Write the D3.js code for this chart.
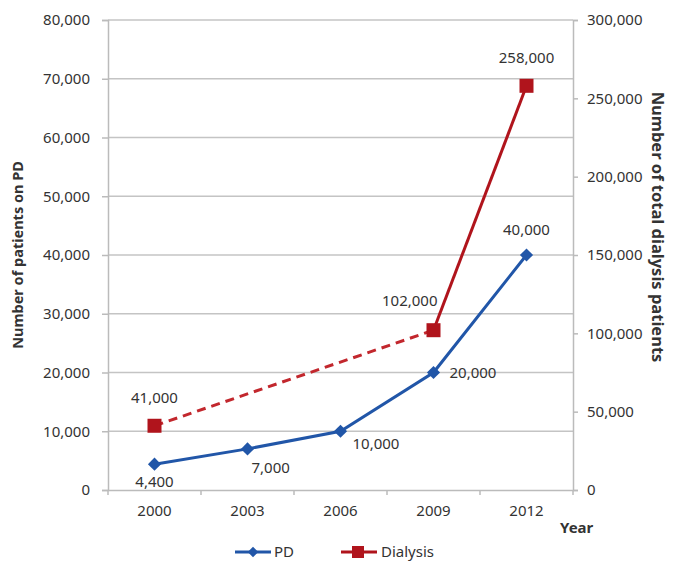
<!DOCTYPE html>
<html>
<head>
<meta charset="utf-8">
<script src="https://cdn.jsdelivr.net/npm/d3@7"></script>
<style>
  body { margin: 0; background: #fff; }
  svg text { font-family: "Noto Sans", "Open Sans", sans-serif; fill: #333; }
</style>
</head>
<body>
<div id="chart"></div>
<script>
// chart values
const years = ['2000', '2003', '2006', '2009', '2012'];
const pdValues = [4400, 7000, 10000, 20000, 40000];
const pdLabels = ['4,400', '7,000', '10,000', '20,000', '40,000'];
const dialysisYears = ['2000', '2009', '2012'];
const dialysisValues = [41000, 102000, 258000];
const dialysisLabels = ['41,000', '102,000', '258,000'];
const leftTicks = [0, 10000, 20000, 30000, 40000, 50000, 60000, 70000, 80000];
const rightTicks = [0, 50000, 100000, 150000, 200000, 250000, 300000];

const width = 688, height = 576;
const plotL = 108, plotR = 573, plotT = 20, plotB = 490;

const svg = d3.select('#chart')
    .append('svg')
    .attr('width', width)
    .attr('height', height);

const x = d3.scaleBand()
    .domain(years)
    .range([plotL, plotR])
    .padding(0);
const xc = d => x(d) + x.bandwidth() / 2;

const yL = d3.scaleLinear().domain([0, 80000]).range([plotB, plotT]);
const yR = d3.scaleLinear().domain([0, 300000]).range([plotB, plotT]);
const fmt = d3.format(',');

// gridlines
svg.append('g')
    .selectAll('line')
    .data(leftTicks.slice(1))
    .enter()
    .append('line')
    .attr('x1', plotL).attr('x2', plotR)
    .attr('y1', d => yL(d)).attr('y2', d => yL(d))
    .attr('stroke', '#c4c4c4')
    .attr('stroke-width', 1.5);

// left axis
const gl = svg.append('g')
    .attr('transform', `translate(${plotL},0)`)
    .call(d3.axisLeft(yL).tickValues(leftTicks).tickFormat(fmt).tickSize(6).tickPadding(12));
// right axis
const gr = svg.append('g')
    .attr('transform', `translate(${plotR},0)`)
    .call(d3.axisRight(yR).tickValues(rightTicks).tickFormat(fmt).tickSize(5).tickPadding(9));
// bottom axis: ticks at band edges
const gb = svg.append('g')
    .attr('transform', `translate(0,${plotB})`)
    .call(d3.axisBottom(x).tickSize(0).tickPadding(15));
gb.selectAll('.edge')
    .data(d3.range(years.length + 1))
    .enter()
    .append('line')
    .attr('class', 'edge')
    .attr('x1', i => plotL + i * x.bandwidth())
    .attr('x2', i => plotL + i * x.bandwidth())
    .attr('y1', 0).attr('y2', 5)
    .attr('stroke', '#bbb')
    .attr('stroke-width', 1.5);

[gl, gr, gb].forEach(g => {
    g.select('.domain').attr('stroke', '#bbb').attr('stroke-width', 1.5);
    g.selectAll('.tick line').attr('stroke', '#bbb').attr('stroke-width', 1.5);
    g.selectAll('.tick text')
        .style('font-size', '15px')
        .style('font-family', '"Noto Sans", sans-serif')
        .attr('fill', '#333');
});

// axis titles
svg.append('text')
    .attr('transform', `translate(23,${(plotT + plotB) / 2}) rotate(-90)`)
    .attr('text-anchor', 'middle')
    .style('font-size', '14.5px')
    .style('font-weight', 'bold')
    .attr('fill', '#111')
    .text('Number of patients on PD');

svg.append('text')
    .attr('transform', `translate(652,227) rotate(90)`)
    .attr('text-anchor', 'middle')
    .style('font-size', '16.5px')
    .style('font-weight', 'bold')
    .attr('fill', '#111')
    .text('Number of total dialysis patients');

svg.append('text')
    .attr('x', 560).attr('y', 533)
    .style('font-size', '15px')
    .style('font-weight', 'bold')
    .attr('fill', '#111')
    .text('Year');

// dialysis series
const blue = '#2156a8';
const red = '#b0141c';
const dPts = dialysisYears.map((yr, i) => ({yr, v: dialysisValues[i], label: dialysisLabels[i]}));
const line = d3.line().x(d => xc(d.yr)).y(d => yR(d.v));

svg.append('path')
    .attr('d', line(dPts.slice(0, 2)))
    .attr('fill', 'none')
    .attr('stroke', '#c2272d')
    .attr('stroke-width', 3)
    .attr('stroke-dasharray', '9,6');
svg.append('path')
    .attr('d', line(dPts.slice(1)))
    .attr('fill', 'none')
    .attr('stroke', red)
    .attr('stroke-width', 3);

// pd series
const pPts = years.map((yr, i) => ({yr, v: pdValues[i], label: pdLabels[i]}));
svg.append('path')
    .attr('d', d3.line().x(d => xc(d.yr)).y(d => yL(d.v))(pPts))
    .attr('fill', 'none')
    .attr('stroke', blue)
    .attr('stroke-width', 3);

svg.append('g')
    .selectAll('path')
    .data(pPts)
    .enter()
    .append('path')
    .attr('d', d3.symbol(d3.symbolDiamond2, 110)())
    .attr('transform', d => `translate(${xc(d.yr)},${yL(d.v)})`)
    .attr('fill', blue);

svg.append('g')
    .selectAll('rect')
    .data(dPts)
    .enter()
    .append('rect')
    .attr('x', d => xc(d.yr) - 7)
    .attr('y', d => yR(d.v) - 7)
    .attr('width', 14).attr('height', 14)
    .attr('fill', red);

// data labels
const pdOffsets = [[0, 23, 'middle'], [4, 24, 'start'], [12, 18, 'start'], [16, 5, 'start'], [0, -20, 'middle']];
svg.append('g')
    .selectAll('text')
    .data(pPts)
    .enter()
    .append('text')
    .attr('x', (d, i) => xc(d.yr) + pdOffsets[i][0])
    .attr('y', (d, i) => yL(d.v) + pdOffsets[i][1])
    .attr('text-anchor', (d, i) => pdOffsets[i][2])
    .style('font-size', '15px')
    .attr('fill', '#222')
    .text(d => d.label);

const dOffsets = [[0, -23, 'middle'], [4, -24, 'end'], [0, -23, 'middle']];
svg.append('g')
    .selectAll('text')
    .data(dPts)
    .enter()
    .append('text')
    .attr('x', (d, i) => xc(d.yr) + dOffsets[i][0])
    .attr('y', (d, i) => yR(d.v) + dOffsets[i][1])
    .attr('text-anchor', (d, i) => dOffsets[i][2])
    .style('font-size', '15px')
    .attr('fill', '#222')
    .text(d => d.label);

// legend
const leg = svg.append('g').attr('transform', 'translate(0,552)');
leg.append('line').attr('x1', 235).attr('x2', 271).attr('stroke', blue).attr('stroke-width', 3);
leg.append('path').attr('d', d3.symbol(d3.symbolDiamond2, 70)()).attr('transform', 'translate(253,0)').attr('fill', blue);
leg.append('text').attr('x', 274).attr('y', 5).style('font-size', '15px').attr('fill', '#222').text('PD');
leg.append('line').attr('x1', 341).attr('x2', 377).attr('stroke', red).attr('stroke-width', 3);
leg.append('rect').attr('x', 352).attr('y', -6).attr('width', 12).attr('height', 12).attr('fill', red);
leg.append('text').attr('x', 381).attr('y', 5).style('font-size', '15px').attr('fill', '#222').text('Dialysis');
</script>
</body>
</html>
